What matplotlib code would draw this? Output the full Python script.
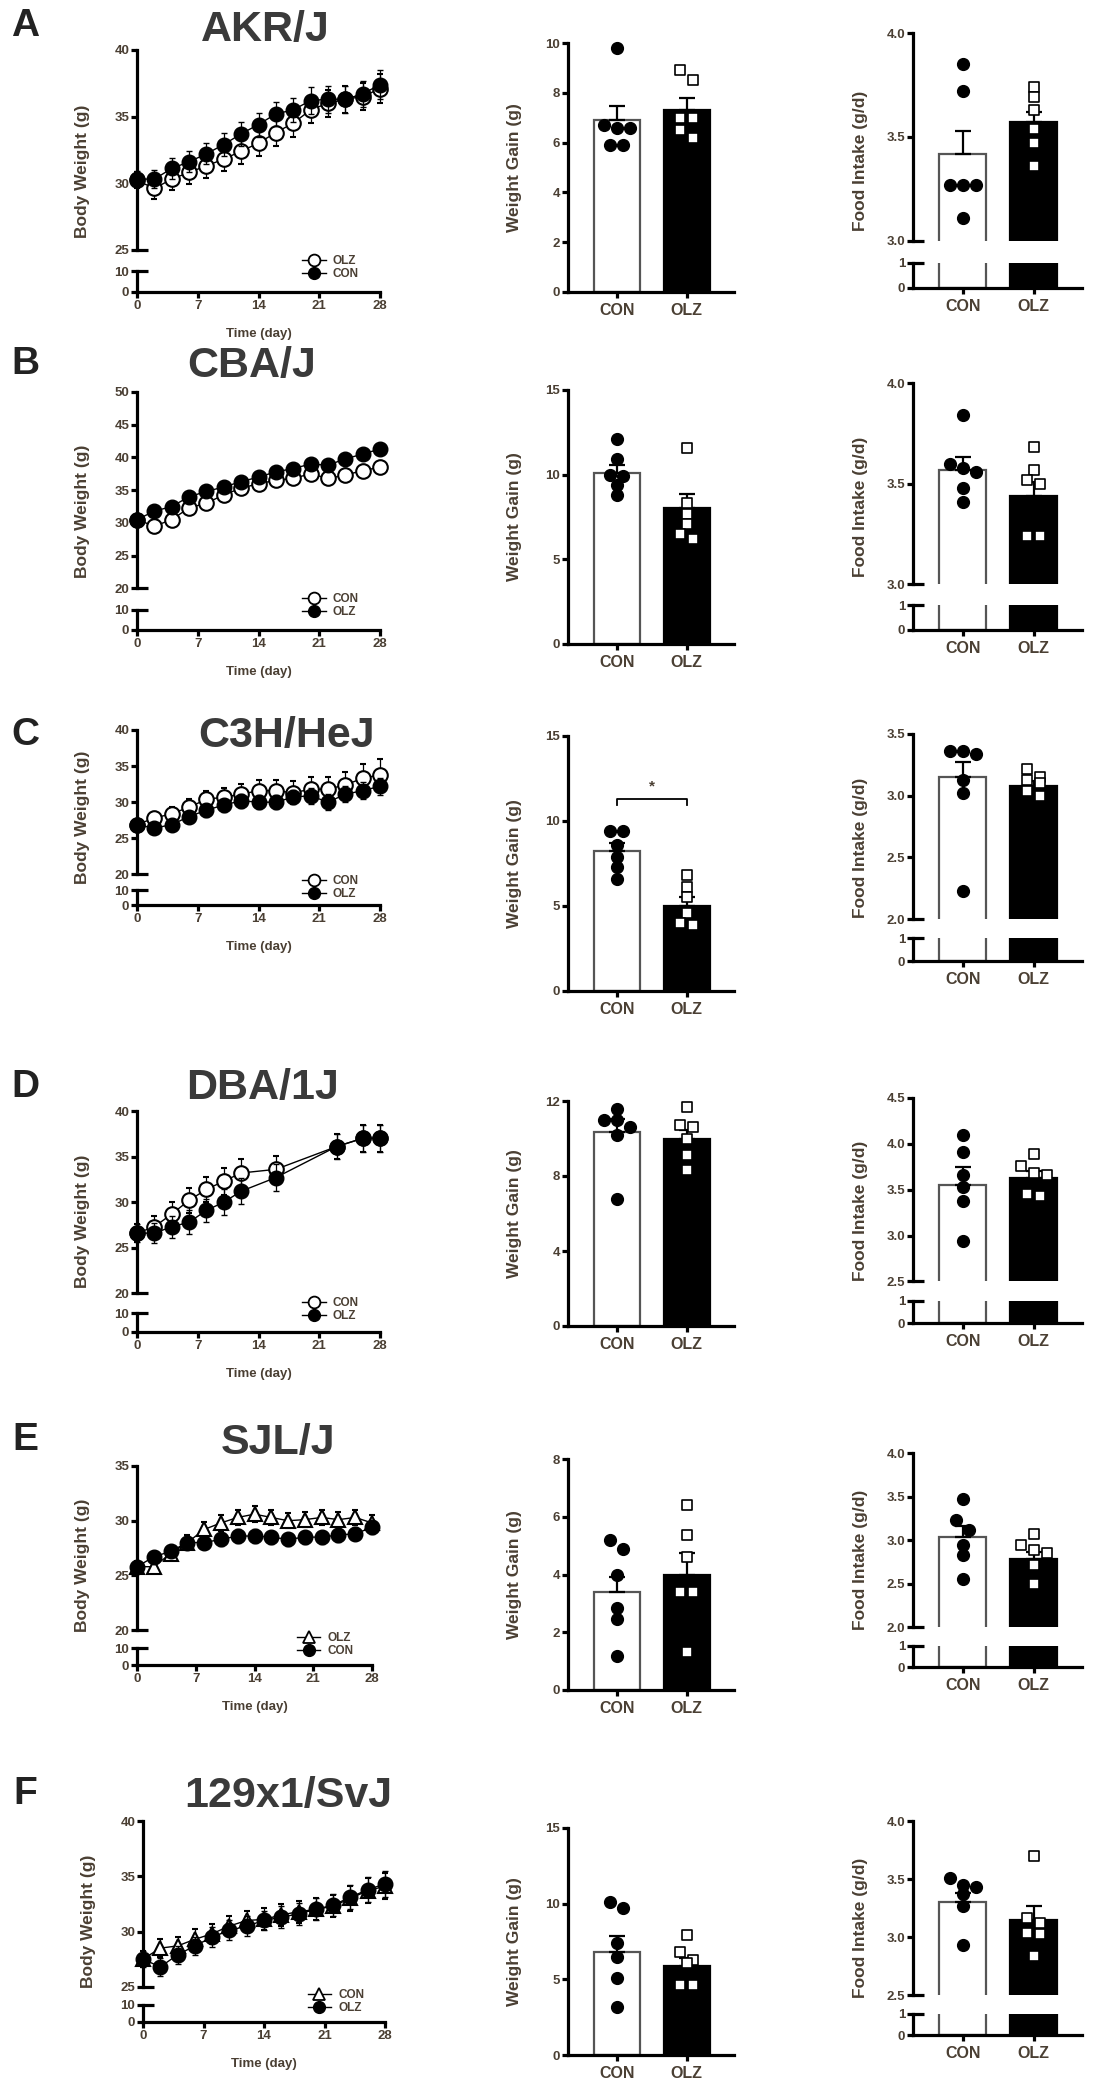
import numpy as np
import matplotlib
matplotlib.use("Agg")
import matplotlib.pyplot as plt
from matplotlib.lines import Line2D

plt.rcParams['font.family'] = ['Liberation Sans', 'DejaVu Sans']
plt.rcParams['font.weight'] = 'bold'

W, H = 1102, 2100
TXT = '#4a3f33'
LW = 2.3

# ---------------- data ----------------
strains = ['AKR/J', 'CBA/J', 'C3H/HeJ', 'DBA/1J', 'SJL/J', '129x1/SvJ']
letters = ['A', 'B', 'C', 'D', 'E', 'F']
groups = ['CON', 'OLZ']

days_2 = [0, 2, 4, 6, 8, 10, 12, 14, 16, 18, 20, 22, 24, 26, 28]
days_d = [0, 2, 4, 6, 8, 10, 12, 16, 23, 26, 28]

# body weight, open symbol series / filled symbol series (mean, sem)
akr_open = [30.2, 29.6, 30.3, 30.8, 31.3, 31.8, 32.4, 33.0, 33.8, 34.5, 35.5, 36.0, 36.3, 36.5, 37.1]
akr_open_sem = [0.6, 0.8, 0.8, 0.9, 0.9, 0.9, 1.0, 1.0, 1.0, 1.0, 1.0, 1.0, 1.0, 1.0, 1.1]
akr_fill = [30.3, 30.3, 31.1, 31.6, 32.2, 32.9, 33.7, 34.4, 35.2, 35.5, 36.2, 36.3, 36.3, 36.7, 37.4]
akr_fill_sem = [0.6, 0.7, 0.8, 0.8, 0.8, 0.9, 0.9, 0.9, 0.9, 0.9, 1.0, 1.0, 1.0, 1.0, 1.1]

cba_open = [30.5, 29.5, 30.5, 32.3, 33.0, 34.3, 35.3, 36.0, 36.5, 36.8, 37.5, 36.8, 37.3, 38.0, 38.5]
cba_open_sem = [0.5, 0.6, 0.6, 0.6, 0.6, 0.7, 0.7, 0.7, 0.7, 0.7, 0.8, 0.8, 0.8, 0.8, 0.8]
cba_fill = [30.5, 31.8, 32.5, 34.0, 34.8, 35.5, 36.3, 37.0, 37.8, 38.3, 39.0, 38.8, 39.8, 40.5, 41.3]
cba_fill_sem = [0.5, 0.5, 0.6, 0.6, 0.6, 0.6, 0.7, 0.7, 0.7, 0.7, 0.7, 0.7, 0.8, 0.8, 0.8]

c3h_open = [26.9, 27.8, 28.4, 29.3, 30.4, 30.7, 31.1, 31.6, 31.6, 31.3, 31.8, 31.8, 32.4, 33.3, 33.8]
c3h_open_sem = [0.8, 0.9, 1.0, 1.1, 1.2, 1.3, 1.4, 1.5, 1.5, 1.6, 1.7, 1.7, 1.8, 2.0, 2.2]
c3h_fill = [26.9, 26.4, 26.9, 28.0, 28.9, 29.6, 30.2, 30.0, 30.0, 30.7, 30.9, 30.0, 31.1, 31.6, 32.2]
c3h_fill_sem = [0.7, 0.7, 0.8, 0.8, 0.9, 0.9, 1.0, 1.0, 1.0, 1.0, 1.1, 1.1, 1.1, 1.2, 1.2]

dba_open = [26.6, 27.3, 28.7, 30.2, 31.4, 32.3, 33.2, 33.6, 36.1, 37.0, 37.0]
dba_open_sem = [1.0, 1.2, 1.3, 1.4, 1.4, 1.5, 1.5, 1.5, 1.4, 1.5, 1.5]
dba_fill = [26.6, 26.6, 27.3, 27.8, 29.1, 30.0, 31.2, 32.7, 36.1, 37.0, 37.0]
dba_fill_sem = [1.0, 1.1, 1.2, 1.3, 1.3, 1.4, 1.4, 1.5, 1.4, 1.5, 1.5]

sjl_open = [25.8, 25.8, 27.0, 28.0, 29.2, 29.8, 30.3, 30.6, 30.3, 30.0, 30.1, 30.3, 30.1, 30.3, 29.8]
sjl_open_sem = [0.5, 0.6, 0.6, 0.7, 0.7, 0.7, 0.7, 0.7, 0.7, 0.7, 0.7, 0.7, 0.7, 0.7, 0.7]
sjl_fill = [25.8, 26.7, 27.2, 28.0, 28.0, 28.3, 28.6, 28.6, 28.5, 28.3, 28.5, 28.5, 28.7, 28.8, 29.4]
sjl_fill_sem = [0.5, 0.5, 0.5, 0.6, 0.6, 0.6, 0.6, 0.6, 0.6, 0.6, 0.6, 0.6, 0.6, 0.6, 0.6]

s129_open = [27.5, 28.5, 28.7, 29.3, 29.8, 30.5, 31.0, 31.1, 31.5, 31.8, 32.0, 32.3, 33.0, 33.7, 34.1]
s129_open_sem = [0.7, 0.8, 0.8, 0.9, 0.9, 0.9, 0.9, 1.0, 1.0, 1.0, 1.0, 1.0, 1.1, 1.1, 1.2]
s129_fill = [27.5, 26.8, 27.9, 28.7, 29.5, 30.1, 30.5, 31.0, 31.3, 31.6, 32.0, 32.4, 33.1, 33.8, 34.3]
s129_fill_sem = [0.7, 0.8, 0.8, 0.8, 0.9, 0.9, 0.9, 0.9, 1.0, 1.0, 1.0, 1.0, 1.1, 1.1, 1.2]

# legend text for (open, filled) series
legend_labels = [('OLZ', 'CON'), ('CON', 'OLZ'), ('CON', 'OLZ'),
                 ('CON', 'OLZ'), ('OLZ', 'CON'), ('CON', 'OLZ')]
open_marker = ['o', 'o', 'o', 'o', '^', '^']
bw_range = [(25, 40), (20, 50), (20, 40), (20, 40), (20, 35), (25, 40)]

# weight gain (g): individual animals, mean, sem
wg_con = [[9.8, 6.7, 6.6, 6.6, 5.9, 5.9],
          [12.1, 10.9, 10.0, 9.9, 9.4, 8.8],
          [9.4, 9.4, 8.6, 7.9, 7.3, 6.6],
          [11.6, 11.0, 11.0, 10.6, 10.2, 6.8],
          [5.2, 4.9, 4.0, 2.84, 2.47, 1.18],
          [10.1, 9.7, 7.4, 6.5, 5.1, 3.2]]
wg_olz = [[8.9, 8.5, 7.0, 7.0, 6.5, 6.2],
          [11.6, 8.3, 7.7, 7.1, 6.5, 6.2],
          [6.8, 6.1, 5.5, 4.6, 4.0, 3.9],
          [11.7, 10.7, 10.6, 10.0, 9.1, 8.3],
          [6.39, 5.37, 4.6, 3.38, 3.38, 1.33],
          [7.9, 6.8, 6.3, 6.1, 4.6, 4.6]]
wg_mean = [(6.9, 7.3), (10.1, 8.05), (8.25, 5.0), (10.35, 9.95), (3.4, 4.0), (6.8, 5.9)]
wg_sem = [(0.55, 0.5), (0.5, 0.8), (0.45, 0.5), (0.7, 0.5), (0.5, 0.75), (1.05, 0.5)]
wg_ticks = [[0, 2, 4, 6, 8, 10], [0, 5, 10, 15], [0, 5, 10, 15],
            [0, 4, 8, 12], [0, 2, 4, 6, 8], [0, 5, 10, 15]]
wg_sig = [None, None, (11.3, '*'), None, None, None]

# food intake (g/d)
fi_con = [[3.85, 3.72, 3.27, 3.27, 3.27, 3.11],
          [3.84, 3.60, 3.58, 3.56, 3.48, 3.41],
          [3.36, 3.36, 3.34, 3.13, 3.02, 2.23],
          [4.10, 3.91, 3.66, 3.53, 3.38, 2.94],
          [3.47, 3.23, 3.12, 2.95, 2.83, 2.55],
          [3.51, 3.45, 3.43, 3.37, 3.27, 2.93]]
fi_olz = [[3.74, 3.69, 3.63, 3.54, 3.47, 3.36],
          [3.68, 3.57, 3.52, 3.50, 3.24, 3.24],
          [3.22, 3.15, 3.13, 3.10, 3.04, 3.00],
          [3.89, 3.76, 3.68, 3.66, 3.45, 3.43],
          [3.07, 2.95, 2.89, 2.85, 2.72, 2.50],
          [3.70, 3.17, 3.12, 3.04, 3.03, 2.84]]
fi_mean = [(3.42, 3.57), (3.57, 3.44), (3.15, 3.08), (3.55, 3.63), (3.04, 2.79), (3.30, 3.15)]
fi_sem = [(0.11, 0.05), (0.06, 0.07), (0.12, 0.04), (0.2, 0.07), (0.12, 0.08), (0.08, 0.12)]
fi_ticks = [[3.0, 3.5, 4.0], [3.0, 3.5, 4.0], [2.0, 2.5, 3.0, 3.5],
            [2.5, 3.0, 3.5, 4.0, 4.5], [2.0, 2.5, 3.0, 3.5, 4.0], [2.5, 3.0, 3.5, 4.0]]

bw_series = [(days_2, akr_open, akr_open_sem, akr_fill, akr_fill_sem),
             (days_2, cba_open, cba_open_sem, cba_fill, cba_fill_sem),
             (days_2, c3h_open, c3h_open_sem, c3h_fill, c3h_fill_sem),
             (days_d, dba_open, dba_open_sem, dba_fill, dba_fill_sem),
             (days_2, sjl_open, sjl_open_sem, sjl_fill, sjl_fill_sem),
             (days_2, s129_open, s129_open_sem, s129_fill, s129_fill_sem)]

# ---------------- layout (pixels: left, right, top, x-axis) ----------------
rows = [
    dict(ly=26, tx=265, ty=30, line=(137, 380, 50, 292), wg=(568, 734, 43, 292), fi=(913, 1082, 33, 288)),
    dict(ly=364, tx=252, ty=366, line=(137, 380, 392, 630), wg=(568, 734, 390, 644), fi=(913, 1082, 383, 630)),
    dict(ly=735, tx=287, ty=736, line=(137, 380, 730, 905), wg=(568, 734, 736, 991), fi=(913, 1082, 734, 961)),
    dict(ly=1087, tx=263, ty=1088, line=(137, 380, 1111, 1332), wg=(568, 734, 1101, 1326), fi=(913, 1082, 1098, 1323)),
    dict(ly=1440, tx=278, ty=1443, line=(137, 372, 1466, 1665), wg=(568, 734, 1459, 1690), fi=(913, 1082, 1453, 1667)),
    dict(ly=1794, tx=288, ty=1796, line=(143, 385, 1821, 2022), wg=(568, 734, 1828, 2055), fi=(913, 1082, 1821, 2035)),
]

fig = plt.figure(figsize=(W / 100, H / 100), dpi=100)


def px_axes(l, t, r, b):
    return fig.add_axes([l / W, 1 - b / H, (r - l) / W, (b - t) / H])


def style(ax, bottom=True):
    ax.patch.set_alpha(0)
    for s in ['top', 'right']:
        ax.spines[s].set_visible(False)
    ax.spines['left'].set_linewidth(LW)
    ax.spines['bottom'].set_linewidth(LW)
    ax.spines['bottom'].set_visible(bottom)
    ax.tick_params(width=LW, length=4, labelsize=9.5, color='black',
                   labelcolor=TXT, pad=1.5)


def brk(ax, y, width_px):
    ax.plot([0, 11 / width_px], [y, y], transform=ax.transAxes, color='black',
            lw=LW, clip_on=False, solid_capstyle='butt')


def unclip(cont):
    cont[0].set_clip_on(False)
    for a in list(cont[1]) + list(cont[2]):
        a.set_clip_on(False)


def growth(i):
    l, r, t, b = rows[i]['line']
    days, oy, oe, fy, fe = bw_series[i]
    h = b - t
    ub = t + 0.825 * h
    lt = t + 0.915 * h
    au = px_axes(l, t, r, ub)
    al = px_axes(l, lt, r, b)
    style(au, bottom=False)
    style(al)
    lo, hi = bw_range[i]
    for a in (au, al):
        a.set_xlim(0, 28)
    au.set_ylim(lo, hi)
    al.set_ylim(0, 10)
    au.set_xticks([])
    au.set_yticks(np.arange(lo, hi + 1, 5))
    al.set_yticks([0, 10])
    al.set_xticks([0, 7, 14, 21, 28])
    brk(au, 0, r - l)
    brk(al, 1, r - l)
    m = open_marker[i]
    c1 = au.errorbar(days, oy, yerr=oe, fmt='-', marker=m, ms=10.5, mfc='white',
                     mec='black', mew=1.5, color='black', lw=1.0,
                     elinewidth=0.9, capsize=2.2, capthick=0.9, ecolor='black', zorder=3)
    c2 = au.errorbar(days, fy, yerr=fe, fmt='-', marker='o', ms=10.5, mfc='black',
                     mec='black', mew=1.0, color='black', lw=1.0,
                     elinewidth=0.9, capsize=2.2, capthick=0.9, ecolor='black', zorder=4)
    unclip(c1)
    unclip(c2)
    fig.text((l - 55) / W, 1 - (t + h / 2) / H, 'Body Weight (g)', rotation=90,
             ha='center', va='center', fontsize=12.5, color=TXT)
    fig.text((l + r) / 2 / W, 1 - (b + 42) / H, 'Time (day)', ha='center',
             va='center', fontsize=9.5, color=TXT)
    lab_o, lab_f = legend_labels[i]
    handles = [Line2D([], [], color='black', lw=1.0, marker=m, ms=8.5, mfc='white', mec='black', mew=1.3),
               Line2D([], [], color='black', lw=1.0, marker='o', ms=8.5, mfc='black', mec='black')]
    fig.legend(handles, [lab_o, lab_f], loc='center left',
               bbox_to_anchor=((l + 0.68 * (r - l)) / W, 1 - (ub + 0.42 * (b - ub)) / H),
               frameon=False, fontsize=8.5, handlelength=2.0, handletextpad=0.6,
               labelspacing=0.1, borderpad=0, borderaxespad=0, labelcolor=TXT)


def swarm_x(ax, vals, xc, step_px=13, tol_px=10):
    tr = ax.transData
    x0 = tr.transform((0, 0))[0]
    x1 = tr.transform((1, 0))[0]
    per = x1 - x0
    ypx = [tr.transform((xc, v))[1] for v in vals]
    order = np.argsort(ypx)[::-1]
    xs = np.full(len(vals), float(xc))
    clusters = []
    for k in order:
        if clusters and abs(ypx[clusters[-1][0]] - ypx[k]) < tol_px:
            clusters[-1].append(k)
        else:
            clusters.append([k])
    for cl in clusters:
        n = len(cl)
        for j, k in enumerate(cl):
            xs[k] = xc + (j - (n - 1) / 2) * step_px / per
    return xs


def bar_panel(i, kind):
    if kind == 'wg':
        l, r, t, b = rows[i]['wg']
        con, olz = wg_con[i], wg_olz[i]
        mean, sem, ticks = wg_mean[i], wg_sem[i], wg_ticks[i]
        label = 'Weight Gain (g)'
    else:
        l, r, t, b = rows[i]['fi']
        con, olz = fi_con[i], fi_olz[i]
        mean, sem, ticks = fi_mean[i], fi_sem[i], fi_ticks[i]
        label = 'Food Intake (g/d)'
    x = [0, 1]
    h = b - t
    if kind == 'fi':
        ub = t + 0.815 * h
        lt = t + 0.90 * h
        au = px_axes(l, t, r, ub)
        al = px_axes(l, lt, r, b)
        style(au, bottom=False)
        style(al)
        axes = [au, al]
        al.set_ylim(0, 1)
        al.set_yticks([0, 1])
        au.set_xticks([])
        brk(au, 0, r - l)
        brk(al, 1, r - l)
        au.set_ylim(ticks[0], ticks[-1])
        au.set_yticks(ticks)
        au.set_yticklabels(['%.1f' % v for v in ticks])
    else:
        au = px_axes(l, t, r, b)
        al = au
        style(au)
        axes = [au]
        au.set_ylim(ticks[0], ticks[-1])
        au.set_yticks(ticks)
    for a in axes:
        a.set_xlim(-0.7, 1.68)
        a.bar(x, mean, width=0.66, color=['white', 'black'],
              edgecolor=['#555555', 'black'], linewidth=1.6, zorder=1)
    al.set_xticks(x)
    al.set_xticklabels(groups, fontsize=11.5, color=TXT)
    al.tick_params(axis='x', pad=4)
    au.errorbar(x, mean, yerr=[[0, 0], list(sem)], fmt='none', ecolor='black',
                elinewidth=1.6, capsize=6, capthick=1.6, zorder=3)
    xs = swarm_x(au, con, 0)
    au.scatter(xs, con, s=72, marker='o', color='black', zorder=5, clip_on=False)
    xs = swarm_x(au, olz, 1)
    au.scatter(xs, olz, s=50, marker='s', facecolor='white', edgecolor='black',
               linewidth=1.2, zorder=5, clip_on=False)
    if kind == 'wg' and wg_sig[i] is not None:
        yb, txt = wg_sig[i]
        d = 0.025 * (ticks[-1] - ticks[0])
        au.plot([0, 0, 1, 1], [yb - d, yb, yb, yb - d], color='black', lw=1.3)
        au.text(0.5, yb + 2 * d, txt, ha='center', va='center', fontsize=11, color=TXT)
    fig.text((l - 53) / W, 1 - (t + h / 2) / H, label, rotation=90,
             ha='center', va='center', fontsize=12.5, color=TXT)


for i in range(6):
    lay = rows[i]
    fig.text(25 / W, 1 - lay['ly'] / H, letters[i], ha='center', va='center',
             fontsize=28, color='#222222')
    fig.text(lay['tx'] / W, 1 - lay['ty'] / H, strains[i], ha='center', va='center',
             fontsize=31, color='#3a3a3a')
    growth(i)
    bar_panel(i, 'wg')
    bar_panel(i, 'fi')

fig.savefig('out.png', dpi=100)
